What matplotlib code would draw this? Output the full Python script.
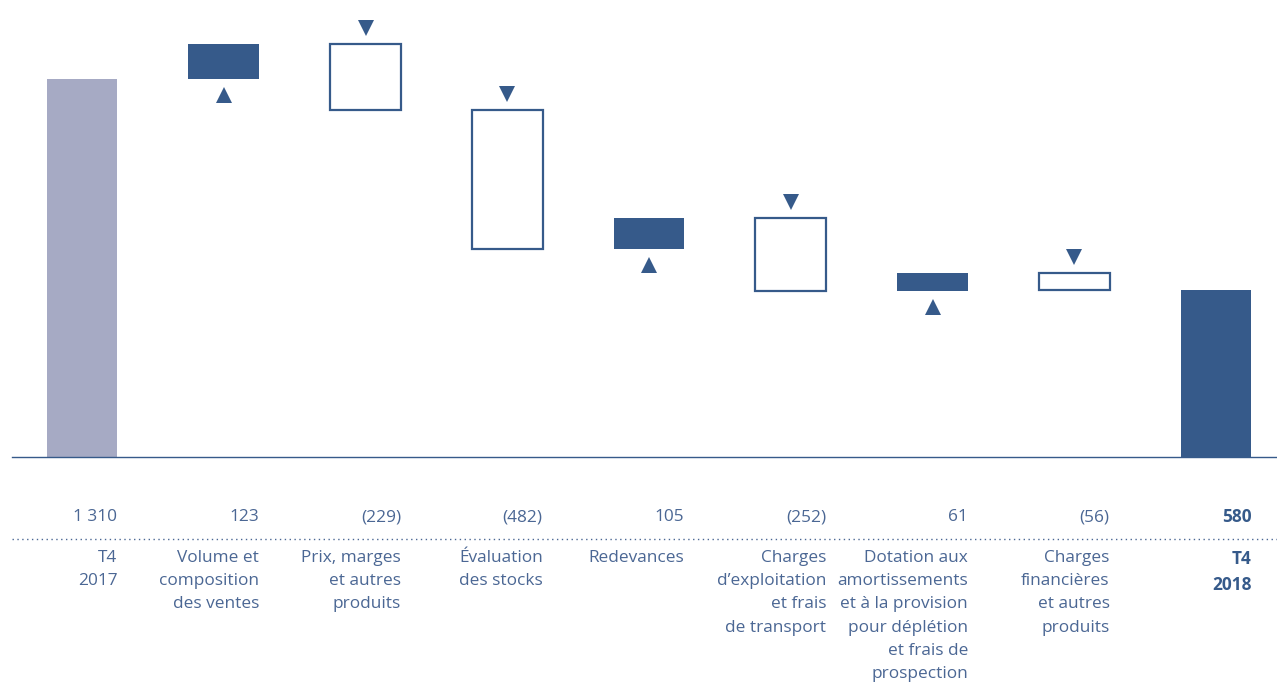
import numpy as np
import matplotlib.pyplot as plt
from matplotlib.transforms import blended_transform_factory

plt.rcParams["font.family"] = ["Open Sans", "DejaVu Sans"]

# data
categories = [
    "T4\n2017",
    "Volume et\ncomposition\ndes ventes",
    "Prix, marges\net autres\nproduits",
    "Évaluation\ndes stocks",
    "Redevances",
    "Charges\nd’exploitation\net frais\nde transport",
    "Dotation aux\namortissements\net à la provision\npour déplétion\net frais de\nprospection",
    "Charges\nfinancières\net autres\nproduits",
    "T4\n2018",
]
values = [1310, 123, -229, -482, 105, -252, 61, -56, 580]
value_labels = ["1 310", "123", "(229)", "(482)", "105", "(252)", "61", "(56)", "580"]

BAR = "#365a8a"
START = "#a6aac4"
TEXT = "#4b6794"

W, H = 1277, 682
fig = plt.figure(figsize=(W / 100, H / 100), dpi=100)
base_px = 457
scale = 1310 / (base_px - 79)  # value units per pixel
ax = fig.add_axes([12 / W, 1 - base_px / H, 1 - 12 / W, base_px / H])
ax.set_ylim(0, base_px * scale)
x0, step = 82, 141.75
ax.set_xlim((12 - x0) / step, (W - x0) / step)

n = len(values)
bw = 0.5
gap = 16 * scale  # triangle offset from bar edge

running = 0
for i, v in enumerate(values):
    if i == 0:
        ax.bar(i, v, width=bw, color=START)
        running = v
    elif i == n - 1:
        ax.bar(i, v, width=bw, color=BAR)
    else:
        lo, hi = min(running, running + v), max(running, running + v)
        if v > 0:
            ax.bar(i, hi - lo, bottom=lo, width=bw, color=BAR)
            ax.plot(i, lo - gap, marker="^", ms=11, color=BAR, mew=0)
        else:
            ax.bar(i, hi - lo, bottom=lo, width=bw, facecolor="white",
                   edgecolor=BAR, linewidth=1.6)
            ax.plot(i, hi + gap, marker="v", ms=11, color=BAR, mew=0)
        running += v

for s in ["top", "right", "left"]:
    ax.spines[s].set_visible(False)
ax.spines["bottom"].set_color(BAR)
ax.spines["bottom"].set_linewidth(1.0)
ax.set_xticks([])
ax.set_yticks([])

trans = blended_transform_factory(ax.transData, fig.transFigure)
for i in range(n):
    last = i == n - 1
    col = BAR if last else TEXT
    wt = "bold" if last else "normal"
    ax.text(i + bw / 2, 1 - 517 / H, value_labels[i], transform=trans,
            ha="right", va="center", fontsize=12.4, color=col, fontweight=wt)
    ax.text(i + bw / 2, 1 - 550 / H, categories[i], transform=trans,
            ha="right", va="top", multialignment="right", fontsize=12.4,
            color=col, fontweight=wt, linespacing=1.6)

fig.add_artist(plt.Line2D([12 / W, 1], [1 - 539 / H] * 2, color=TEXT,
                          linestyle=(0, (1, 2.5)), linewidth=1.0))

fig.savefig("out.png", dpi=100)
